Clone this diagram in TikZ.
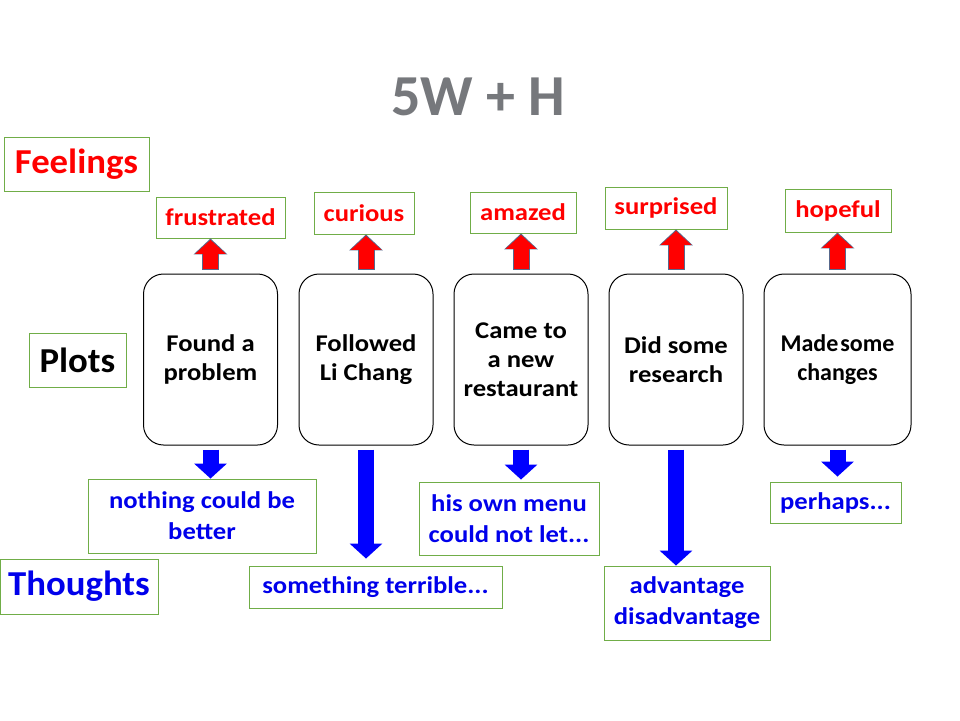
\documentclass[tikz,border=0pt]{standalone}
\usepackage{fontspec}
\setmainfont{Carlito}
\newfontfamily\wideface{Carlito}[FakeStretch=1.11]
\newfontfamily\labelface{Carlito}[FakeStretch=1.05]
\usetikzlibrary{arrows.meta}
\definecolor{boxgreen}{RGB}{112,173,71}
\definecolor{titlegray}{RGB}{118,120,124}
\definecolor{thoughtblue}{RGB}{0,0,235}
\definecolor{arrowedge}{RGB}{88,104,140}
\tikzset{
  tag/.style={draw=boxgreen, line width=0.9pt, inner sep=0pt, align=center, font=\wideface\bfseries\fontsize{24}{31}\selectfont},
  bigtag/.style={tag, font=\labelface\bfseries\fontsize{35}{42}\selectfont},
  feel/.style={tag, text=red},
  thought/.style={tag, text=thoughtblue},
  plot/.style={draw=black, line width=1pt, rounded corners=20pt, minimum width=134pt, minimum height=171pt, inner sep=0pt, align=center, font=\wideface\bfseries\fontsize{24}{29}\selectfont},
  uparrow/.style={red, line width=15pt, -{Triangle[width=30pt,length=14pt]}, shorten <=5pt, shorten >=1.5pt,
    preaction={draw=arrowedge, line width=17pt, -{Triangle[width=33pt,length=16pt]}, shorten <=4pt, shorten >=0pt}},
  downarrow/.style={blue, line width=16pt, -{Triangle[width=32pt,length=15pt]}, shorten <=4pt}
}
\begin{document}
\begin{tikzpicture}[x=1pt,y=-1pt]
\useasboundingbox[fill=white] (0,0) rectangle (960,720);
\node[text=titlegray, font=\bfseries\fontsize{58}{70}\selectfont] (title) at (478,97) {5W + H};
\node[bigtag, text=red, minimum width=145pt, minimum height=54pt] (feelings) at (76.5,164) {Feelings};
\node[bigtag, text=black, minimum width=97pt, minimum height=54pt] (plots) at (77.5,360) {Plots};
\node[bigtag, text=thoughtblue, minimum width=158pt, minimum height=55pt] (thoughts) at (79,586.5) {Thoughts};
\node[feel, minimum width=129pt, minimum height=41pt] (f1) at (220.5,217.5) {frustrated};
\node[feel, minimum width=100pt, minimum height=42pt] (f2) at (364,213) {curious};
\node[feel, minimum width=106pt, minimum height=41pt] (f3) at (523,212.5) {amazed};
\node[feel, minimum width=122pt, minimum height=42pt] (f4) at (666,208) {surprised};
\node[feel, minimum width=106pt, minimum height=43pt] (f5) at (838,210.5) {hopeful};
\node[plot] (p1) at (210.5,359.5) {Found a\\problem};
\node[plot] (p2) at (366,359.5) {Followed\\Li Chang};
\node[plot] (p3) at (521,359.5) {Came to\\a new\\restaurant};
\node[plot] (p4) at (676,359.5) {Did some\\research};
\node[plot, minimum width=147pt, font=\bfseries\fontsize{24}{29}\selectfont] (p5) at (837.5,359.5) {Made\hspace{2pt}some\\changes};
\node[thought, minimum width=228pt, minimum height=74pt] (t1) at (202,516) {nothing could be\\better};
\node[thought, minimum width=253pt, minimum height=42pt] (t2) at (375.5,587) {something terrible...};
\node[thought, minimum width=180pt, minimum height=73pt] (t3) at (509,518.5) {his own menu\\could not let...};
\node[thought, minimum width=166pt, minimum height=74pt] (t4) at (687,603) {advantage\\disadvantage};
\node[thought, minimum width=131pt, minimum height=41pt] (t5) at (835.5,502.5) {perhaps...};
\foreach \i in {1,...,5}{
  \draw[uparrow] (p\i.north) -- (p\i.north |- f\i.south);
}
\draw[downarrow] (p1.south) -- (p1.south |- t1.north);
\draw[downarrow, shorten >=7pt] (p2.south) -- (p2.south |- t2.north);
\draw[downarrow, shorten >=2pt] (p3.south) -- (p3.south |- t3.north);
\draw[downarrow] (p4.south) -- (p4.south |- t4.north);
\draw[downarrow, shorten >=5pt] (p5.south) -- (p5.south |- t5.north);
\end{tikzpicture}
\end{document}
